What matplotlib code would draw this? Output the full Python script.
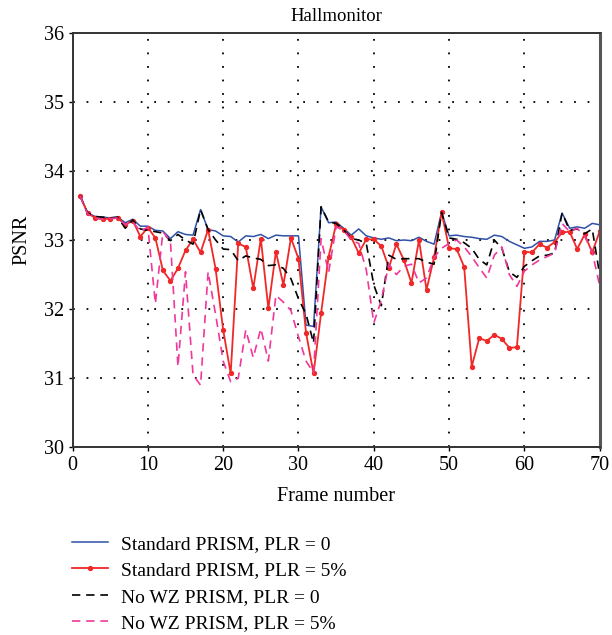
import matplotlib
matplotlib.use('Agg')
import matplotlib.pyplot as plt

plt.rcParams['font.family'] = ['Liberation Serif', 'DejaVu Serif']

frames = list(range(1, 71))

# PSNR per frame for each codec setting
std_plr0 = [33.64, 33.39, 33.34, 33.33, 33.32, 33.33, 33.25, 33.30, 33.20, 33.20,
            33.14, 33.13, 33.02, 33.12, 33.08, 33.07, 33.44, 33.15, 33.13, 33.06,
            33.05, 32.97, 33.06, 33.05, 33.08, 33.02, 33.07, 33.06, 33.06, 33.06,
            31.77, 31.75, 33.48, 33.25, 33.26, 33.17, 33.07, 33.16, 33.06, 33.03,
            33.01, 33.03, 32.99, 33.00, 32.99, 33.04, 32.98, 32.94, 33.40, 33.06,
            33.07, 33.05, 33.04, 33.02, 33.01, 33.07, 33.05, 32.98, 32.93, 32.88,
            32.90, 32.98, 32.98, 33.00, 33.39, 33.17, 33.19, 33.17, 33.24, 33.22]

std_plr5 = [33.64, 33.39, 33.32, 33.30, 33.31, 33.32, 33.22, 33.28, 33.05, 33.18,
            33.03, 32.56, 32.41, 32.59, 32.85, 33.01, 32.82, 33.15, 32.58, 31.70,
            31.07, 32.95, 32.90, 32.30, 33.02, 32.01, 32.83, 32.35, 33.03, 32.73,
            31.66, 31.07, 31.94, 32.76, 33.23, 33.15, 33.04, 32.81, 33.01, 33.01,
            32.91, 32.60, 32.94, 32.71, 32.38, 33.00, 32.28, 32.75, 33.40, 32.88,
            32.87, 32.61, 31.17, 31.58, 31.54, 31.63, 31.57, 31.44, 31.45, 32.83,
            32.82, 32.94, 32.89, 32.97, 33.11, 33.12, 32.87, 33.08, 32.82, 33.13]

nowz_plr0 = [33.64, 33.39, 33.34, 33.33, 33.32, 33.33, 33.17, 33.29, 33.16, 33.14,
             33.12, 33.10, 32.99, 33.08, 33.00, 32.94, 33.44, 33.15, 33.00, 32.87,
             32.86, 32.70, 32.77, 32.74, 32.72, 32.63, 32.64, 32.59, 32.44, 32.15,
             31.93, 31.51, 33.48, 33.26, 33.24, 33.15, 33.02, 33.00, 32.95, 32.35,
             32.05, 32.78, 32.72, 32.73, 32.73, 32.73, 32.68, 32.65, 33.40, 33.03,
             33.01, 32.96, 32.88, 32.72, 32.64, 33.00, 32.88, 32.54, 32.46, 32.62,
             32.70, 32.77, 32.78, 32.81, 33.39, 33.14, 33.16, 33.09, 33.16, 32.49]

nowz_plr5 = [33.64, 33.38, 33.32, 33.30, 33.31, 33.32, 33.22, 33.27, 33.12, 33.19,
             32.08, 33.12, 32.98, 31.17, 32.54, 31.05, 30.90, 32.54, 31.92, 31.25,
             30.95, 31.00, 31.70, 31.30, 31.72, 31.25, 32.20, 32.10, 31.98, 31.60,
             31.25, 31.08, 33.02, 32.53, 33.19, 33.14, 33.00, 32.95, 32.57, 31.80,
             32.13, 32.65, 32.50, 32.62, 32.65, 32.38, 32.45, 32.75, 32.88, 32.95,
             33.00, 32.90, 32.76, 32.60, 32.45, 32.78, 32.90, 32.50, 32.33, 32.55,
             32.64, 32.71, 32.76, 32.81, 33.24, 33.12, 33.17, 33.05, 32.83, 32.33]

labels = ['Standard PRISM, PLR = 0', 'Standard PRISM, PLR = 5%',
          'No WZ PRISM, PLR = 0', 'No WZ PRISM, PLR = 5%']

fig = plt.figure(figsize=(6.12, 6.35), dpi=100)
ax = fig.add_axes([0.1185, 0.2953, 0.8615, 0.6535])

ax.plot(frames, std_plr0, color='#2f52a8', lw=1.1, label=labels[0])
ax.plot(frames, std_plr5, color='#f02828', lw=1.3, marker='o', markersize=2.8,
        label=labels[1])
ax.plot(frames, nowz_plr0, color='black', lw=1.2, dashes=(5, 3.5), label=labels[2])
ax.plot(frames, nowz_plr5, color='#f0389a', lw=1.2, dashes=(5, 3.5), label=labels[3])

ax.set_xlim(0, 70)
ax.set_ylim(30, 36)
ax.set_xticks(range(0, 71, 10))
ax.set_yticks(range(30, 37))
ax.grid(True, color='black', lw=1.3, linestyle=(0, (1, 6.5)))
ax.tick_params(direction='out', length=3, width=1, labelsize=14.5, pad=3)
for s in ax.spines.values():
    s.set_linewidth(1.4)
    s.set_color('#333333')
ax.spines['right'].set_linewidth(2.2)
ax.spines['right'].set_color('#555555')

ax.set_title('Hallmonitor', fontsize=13.5, pad=8)
ax.set_xlabel('Frame number', fontsize=14.5, labelpad=9)
ax.set_ylabel('PSNR', fontsize=14.5, labelpad=9)

fig.legend(loc='upper left', bbox_to_anchor=(0.1176, 0.157), frameon=False,
           fontsize=14, handlelength=1.85, handletextpad=0.65, labelspacing=0.45,
           borderpad=0, borderaxespad=0)

fig.savefig('out.png', dpi=100)
